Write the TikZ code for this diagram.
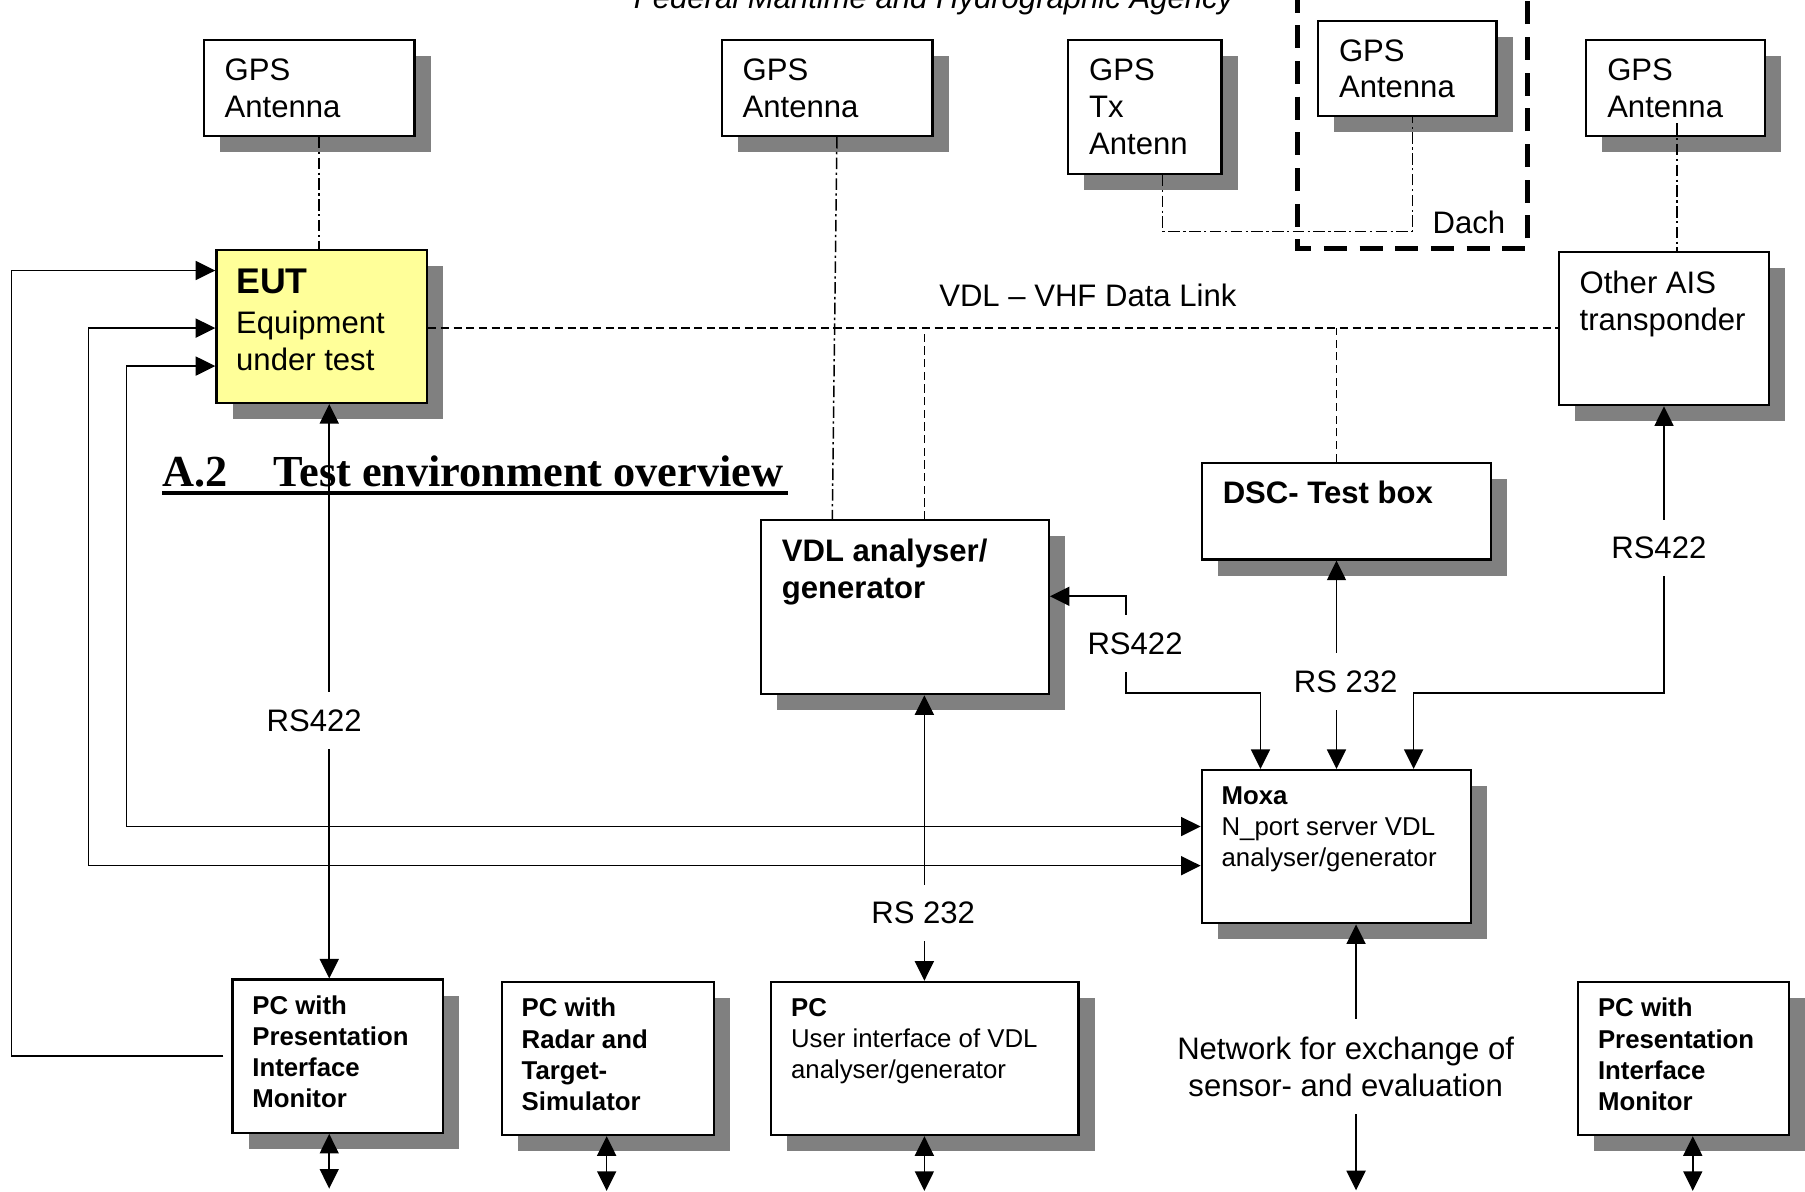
\documentclass[tikz,border=0pt]{standalone}
\usepackage{fontspec}
\setmainfont{Liberation Sans}
\newfontfamily\headserif{Liberation Serif}
\usetikzlibrary{arrows.meta}
\usetikzlibrary{shadows}
\definecolor{eutyellow}{HTML}{FFFF99}
\newcommand{\bigtxt}{\fontsize{27}{32}\selectfont}
\newcommand{\smalltxt}{\fontsize{22.4}{27}\selectfont}
\tikzset{
  unit/.style={draw, rectangle, line width=2pt, fill=white, inner sep=0,
    drop shadow={shadow xshift=14pt, shadow yshift=-14pt, opacity=1, fill=black!50}},
  intxt/.style={anchor=north west, align=left, inner sep=0, xshift=19pt, yshift=-17pt, font=\bigtxt},
  intxts/.style={anchor=north west, align=left, inner sep=0, xshift=18pt, yshift=-15pt, font=\smalltxt},
  tag/.style={fill=white, inner xsep=2pt, inner ysep=15pt, font=\bigtxt}
}

\begin{document}
\begin{tikzpicture}[x=1pt, y=-1pt, >={Triangle[length=17pt,width=16.5pt]},
  wire/.style={line width=1.4pt},
  cable/.style={line width=1.3pt, dash pattern=on 10pt off 3pt on 2pt off 3pt},
  vdllink/.style={line width=1.3pt, dash pattern=on 7pt off 4pt}]
\useasboundingbox (0,0) rectangle (1568,1035);
\clip (0,0) rectangle (1568,1035);

\node[font=\bigtxt\itshape, anchor=base] (agency) at (811,7) {Federal Maritime and Hydrographic Agency};
\draw[line width=4.5pt, dash pattern=on 20pt off 11pt] (1127,-40) -- (1127,216) -- (1327,216) -- (1327,-40);

\node[unit, minimum width=183pt, minimum height=83pt, label={[intxt]north west:GPS\\Antenna}] (gpseut) at (268.5,76.5) {};
\node[unit, minimum width=183pt, minimum height=83pt, label={[intxt]north west:GPS\\Antenna}] (gpsvdl) at (718.5,76.5) {};
\node[unit, minimum width=133pt, minimum height=116pt, label={[intxt]north west:GPS\\Tx\\Antenn}] (gpstx) at (994.5,93) {};
\node[unit, minimum width=155pt, minimum height=83pt, label={[intxt]north west:GPS\\Antenna}] (gpsroof) at (1222.5,59.5) {};
\node[unit, minimum width=155pt, minimum height=83pt, label={[intxt]north west:GPS\\Antenna}] (gpsais) at (1455.5,76.5) {};
\node[unit, fill=eutyellow, minimum width=183pt, minimum height=133pt,
  label={[intxt, xshift=-1pt]north west:{\fontsize{31}{36}\selectfont\bfseries EUT}\\[3pt]Equipment\\under test}] (eut) at (279.5,283.5) {};
\node[unit, minimum width=183pt, minimum height=133pt, label={[intxt]north west:Other AIS\\transponder}] (ais) at (1445.5,285.5) {};
\node[unit, minimum width=251pt, minimum height=84pt, label={[intxt, font=\bigtxt\bfseries]north west:DSC- Test box}] (dsc) at (1169.5,444) {};
\node[unit, minimum width=250pt, minimum height=151pt, label={[intxt, font=\bigtxt\bfseries]north west:VDL analyser/\\generator}] (vdl) at (786,527.5) {};
\node[unit, minimum width=234pt, minimum height=133pt, label={[intxts]north west:\textbf{Moxa}\\N\_port server VDL\\analyser/generator}] (moxa) at (1161,735.5) {};
\node[unit, minimum width=183pt, minimum height=133pt, label={[intxts, font=\smalltxt\bfseries]north west:PC with\\Presentation\\Interface\\Monitor}] (pcpim) at (293.5,917.5) {};
\node[unit, minimum width=184pt, minimum height=133pt, label={[intxts, font=\smalltxt\bfseries]north west:PC with\\Radar and\\Target-\\Simulator}] (pcradar) at (528,919.5) {};
\node[unit, minimum width=267pt, minimum height=133pt, label={[intxts]north west:\textbf{PC}\\User interface of VDL\\analyser/generator}] (pcvdl) at (803.5,919.5) {};
\node[unit, minimum width=183pt, minimum height=133pt, label={[intxts, font=\smalltxt\bfseries]north west:PC with\\Presentation\\Interface\\Monitor}] (pcpim2) at (1462.5,919.5) {};

\draw[cable] ([xshift=8.5pt]gpseut.south) -- ([xshift=-2.5pt]eut.north);
\draw[cable] ([xshift=8.5pt]gpsvdl.south) -- ([xshift=-63pt]vdl.north);
\draw[cable] ([xshift=15.5pt]gpstx.south) -- ++(0,49) -| ([xshift=4.5pt]gpsroof.south);
\draw[cable] ([xshift=1.5pt,yshift=12pt]gpsais.south) -- ([xshift=11.5pt]ais.north);
\node[font=\bigtxt] (dach) at (1276,193) {Dach};

\coordinate (linkw) at ([yshift=-1.5pt]eut.east);
\coordinate (tapvdl) at ([xshift=17pt]vdl.north);
\coordinate (tapdsc) at ([xshift=-8.5pt]dsc.north);
\draw[vdllink] (linkw) -- (linkw -| ais.west);
\draw[vdllink] (tapvdl) -- (tapvdl |- linkw);
\draw[vdllink] (tapdsc) -- (tapdsc |- linkw);
\node[font=\bigtxt] (vdltxt) at (945,257) {VDL – VHF Data Link};

\node[font=\headserif\bfseries\fontsize{38.5}{44}\selectfont, anchor=base west, inner sep=0] (title) at (141,423) {A.2\hspace{40pt}Test environment overview};
\draw[line width=3.5pt] ([yshift=-5pt]title.base west) -- ([yshift=-5pt,xshift=4pt]title.base east);

\draw[<->, wire] ([xshift=6.5pt]eut.south) -- ([xshift=-7.5pt]pcpim.north);
\node[tag] (rsA) at (273,626) {RS422};
\coordinate (bend) at (978,602);
\draw[<->, wire] ([yshift=9.5pt]vdl.east) -| (bend) -| ([xshift=-66pt]moxa.north);
\node[tag] (rsB) at (986,559) {RS422};
\draw[<->, wire] ([xshift=-8.5pt]dsc.south) -- (moxa.north);
\node[tag] (rsC) at (1169,592) {RS 232};
\draw[<->, wire] (ais.south) -- (ais.south |- bend) -| ([xshift=67pt]moxa.north);
\node[tag] (rsD) at (1441,476) {RS422};
\draw[<->, wire] ([xshift=17pt]vdl.south) -- ([xshift=-0.5pt]pcvdl.north);
\node[tag] (rsE) at (802,793) {RS 232};

\coordinate (netend) at (1178,1034);
\draw[<->, wire] ([xshift=17pt]moxa.south) -- (netend);
\node[tag, align=center] (net) at (1169,926.5) {Network for exchange of\\sensor- and evaluation};

\coordinate (railA) at (10,0);
\coordinate (railB) at (77,0);
\coordinate (railC) at (110,0);
\coordinate (eutinA) at ([yshift=48.5pt]eut.west);
\coordinate (eutinB) at ([yshift=-1.5pt]eut.west);
\coordinate (eutinC) at ([yshift=-34.5pt]eut.west);
\coordinate (moxainC) at ([yshift=17.5pt]moxa.west);
\coordinate (moxainB) at ([yshift=-16.5pt]moxa.west);
\draw[->, wire] ([xshift=-7pt]pcpim.west) -| (railA |- eutinA) -- (eutinA);
\draw[<->, wire] (eutinB) -| (railB |- moxainB) -- (moxainB);
\draw[<->, wire] (eutinC) -| (railC |- moxainC) -- (moxainC);

\foreach \pc/\dx in {pcpim/-7.5, pcradar/-1, pcvdl/-0.5, pcpim2/8}
  \draw[<->, wire] ([xshift=\dx pt]\pc.south) -- ++(0,47.5);
\end{tikzpicture}
\end{document}
